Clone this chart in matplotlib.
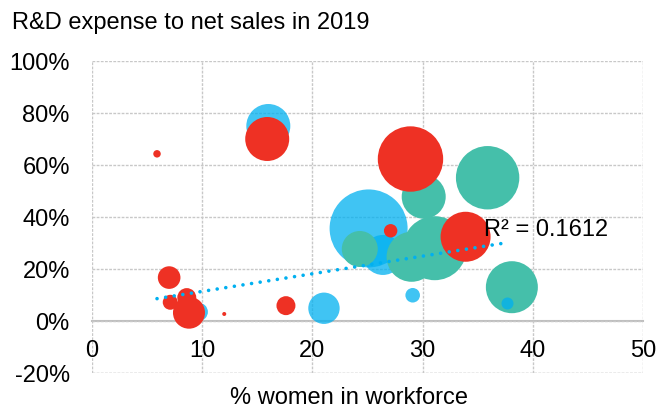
import matplotlib
matplotlib.use('Agg')
import matplotlib.pyplot as plt
from matplotlib.ticker import FuncFormatter

plt.rcParams['font.family'] = ['Liberation Sans', 'DejaVu Sans']

# bubble data: % women in workforce, R&D/net sales (%), bubble size (relative area)
blue_x = [25.1, 26.4, 16.0, 21.05, 29.1, 9.7]
blue_y = [35.6, 25.4, 75.0, 4.9, 9.9, 3.5]
blue_size = [1521, 400, 484, 246, 53, 81]

blue_top_x = [37.7]
blue_top_y = [6.8]
blue_top_size = [36]

green_x = [24.3, 30.1, 35.9, 29.0, 31.1, 38.1]
green_y = [27.7, 47.8, 55.1, 24.7, 28.0, 13.0]
green_size = [324, 484, 1005, 625, 1024, 676]

red_x = [5.9, 15.9, 7.0, 7.1, 8.6, 8.8, 12.0, 17.6, 27.1, 28.9, 33.9]
red_y = [64.3, 70.0, 16.7, 7.2, 9.0, 3.2, 2.7, 5.9, 34.7, 62.3, 32.4]
red_size = [14, 484, 128, 56, 90, 256, 4, 90, 45, 1069, 625]

# linear trend
trend_x = [5.9, 37.6]
trend_y = [8.6, 30.1]
r2_text = 'R\u00b2 = 0.1612'

x_ticks = [0, 10, 20, 30, 40, 50]
y_ticks = [-20, 0, 20, 40, 60, 80, 100]

BLUE = '#00B0F0'
GREEN = '#45BFAA'
RED = '#EE3124'
GRID = '#C8C8C8'
FS = 17

fig = plt.figure(figsize=(6.57, 4.08), dpi=100)
ax = fig.add_axes([92 / 657, 1 - 373 / 408, 551 / 657, 312 / 408])

k = (1.44) ** 2  # px^2 -> points^2 at 100 dpi
ax.scatter(blue_x, blue_y, s=[v * k for v in blue_size], color=BLUE, alpha=0.75, lw=0, zorder=3)
ax.scatter(green_x, green_y, s=[v * k for v in green_size], color=GREEN, lw=0, zorder=4)
ax.scatter(blue_top_x, blue_top_y, s=[v * k for v in blue_top_size], color=BLUE, alpha=0.75, lw=0, zorder=5)
ax.scatter(red_x, red_y, s=[v * k for v in red_size], color=RED, lw=0, zorder=6)

ax.plot(trend_x, trend_y, color=BLUE, lw=2.6, linestyle=(0, (0.01, 2.4)),
        dash_capstyle='round', zorder=7)
ax.text(35.6, 35.0, r2_text, fontsize=FS, ha='left', va='center', zorder=8)

ax.set_xlim(0, 50)
ax.set_ylim(-20, 100)
ax.set_xticks(x_ticks)
ax.set_yticks(y_ticks)
ax.yaxis.set_major_formatter(FuncFormatter(lambda v, p: f'{v:.0f}%'))
ax.tick_params(axis='both', length=0, labelsize=FS)
ax.tick_params(axis='x', pad=14)
ax.tick_params(axis='y', pad=16)

ax.grid(True, color=GRID, linestyle=(0, (2, 1)), lw=1, zorder=0)
for side in ['left', 'right', 'top']:
    ax.spines[side].set_visible(False)
ax.spines['bottom'].set_position(('data', 0))
ax.spines['bottom'].set_color('#BFBFBF')
ax.spines['bottom'].set_linewidth(1.5)
ax.spines['bottom'].set_zorder(1)
ax.axhline(-20, color=GRID, linestyle=(0, (2, 1)), lw=1, zorder=0)

fig.text(12 / 657, 1 - 23 / 408, 'R&D expense to net sales in 2019', fontsize=FS, ha='left', va='center')
fig.text(349 / 657, 1 - 398 / 408, '% women in workforce', fontsize=FS, ha='center', va='center')

fig.savefig('out.png', dpi=100)
